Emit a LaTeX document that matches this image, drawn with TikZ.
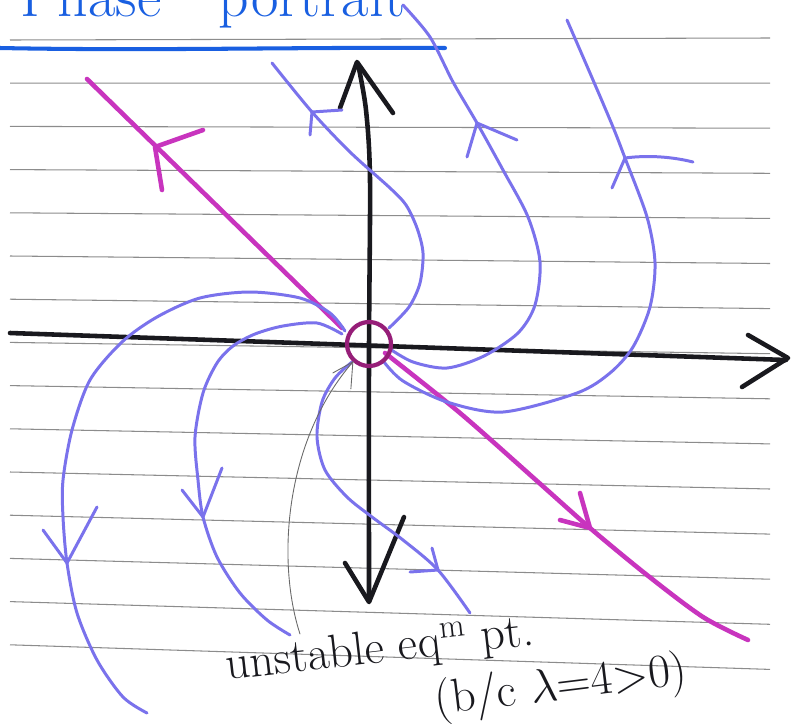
\RequirePackage{fix-cm}
\documentclass[tikz,border=0pt]{standalone}
\usepackage{amsmath}
\usepackage{tikz}
\usetikzlibrary{calc}
\definecolor{TitleBlue}{RGB}{25,95,225}
\definecolor{TrajBlue}{RGB}{122,114,236}
\definecolor{EigenMagenta}{RGB}{200,52,190}
\definecolor{EqPurple}{RGB}{150,30,120}
\definecolor{AxisBlack}{RGB}{25,25,30}
\definecolor{RuleGray}{RGB}{140,140,140}
\definecolor{PencilGray}{RGB}{105,105,105}
\tikzset{
  ruling/.style={draw=RuleGray,line width=0.6pt},
  axisline/.style={draw=AxisBlack,line width=2.6pt,line cap=round,line join=round},
  eigenline/.style={draw=EigenMagenta,line width=2.6pt,line cap=round,line join=round},
  traj/.style={draw=TrajBlue,line width=1.7pt,line cap=round,line join=round},
  pencil/.style={draw=PencilGray,line width=0.5pt,line cap=round},
  titleline/.style={draw=TitleBlue,line width=2.3pt,line cap=round},
  eqcircle/.style={circle,draw=EqPurple,line width=2.4pt,minimum size=0.88cm,inner sep=0pt},
  titletext/.style={text=TitleBlue,font=\fontsize{34}{40}\selectfont,inner sep=0pt},
  handtext/.style={text=AxisBlack,font=\fontsize{27}{32}\selectfont,inner sep=0pt}
}

\begin{document}
\begin{tikzpicture}[x=0.02cm,y=-0.02cm]
\clip (0,0) rectangle (791,727);
\fill[white] (0,0) rectangle (791,727);

% ruled paper
\foreach \k in {0,...,14}
  \draw[ruling] (10,{40+43.2*\k}) -- (770,{38+45.1*\k});

% title
\node[titletext,anchor=base west] (title) at (20,16) {Phase\hspace{1.15cm}portrait};
\draw[titleline] (0,48) .. controls (150,51) and (300,47) .. (445,48);

% axes
\draw[axisline] (10,333) -- (786,360);
\draw[axisline] (748,335) -- (788,358) -- (742,387);
\draw[axisline] plot[smooth] coordinates {(358,64) (366,110) (370,180) (369,350) (369,601)};
\draw[axisline] (340,108) -- (357,62) -- (393,113);
\draw[axisline] (345,563) -- (369,602) -- (404,517);

% eigenvector line
\draw[eigenline] (87,79) -- (342,328);
\draw[eigenline] (203,130) -- (155,147) -- (162,190);
\draw[eigenline] plot[smooth] coordinates {(385,353) (460,413) (537,481) (590,528) (647,575) (703,617) (748,640)};
\draw[eigenline] (560,520) -- (590,528) -- (580,493);

% trajectories
\draw[traj] plot[smooth] coordinates {(272,63) (312,112) (350,152) (390,188) (406,205) (417,228) (423,253) (420,283) (409,307) (389,328)};
\draw[traj] (342,110) -- (312,112) -- (310,135);
\draw[traj] plot[smooth] coordinates {(403,5) (430,37) (453,82) (477,123) (503,170) (528,217) (540,262) (535,305) (518,333) (484,356) (447,368) (413,362) (390,349)};
\draw[traj] (517,140) -- (477,123) -- (467,157);
\draw[traj] plot[smooth] coordinates {(567,20) (593,80) (613,127) (625,158) (647,217) (655,263) (650,307) (633,347) (610,373) (577,393) (503,412) (447,402) (403,381) (384,362)};
\draw[traj] (693,162) .. controls (665,155) and (640,156) .. (625,158) -- (612,188);
\draw[traj] plot[smooth] coordinates {(342,334) (317,323) (283,326) (255,334) (233,346) (217,363) (203,393) (195,437) (198,480) (203,517) (217,557) (240,593) (267,620) (290,635)};
\draw[traj] (182,490) -- (203,517) -- (222,468);
\draw[traj] plot[smooth] coordinates {(345,331) (330,313) (300,298) (250,292) (200,298) (157,317) (122,342) (90,380) (72,430) (63,480) (63,517) (67,563) (77,613) (97,660) (123,697) (147,713)};
\draw[traj] (43,530) -- (67,563) -- (97,507);
\draw[traj] plot[smooth] coordinates {(352,362) (335,378) (322,402) (317,437) (325,470) (347,497) (372,517) (403,540) (438,570) (470,613)};
\draw[traj] (410,572) -- (438,570) -- (432,548);

% equilibrium point
\node[eqcircle] (eq) at (369,344) {};

% label
\node[handtext,anchor=base west,rotate=6.5] (lblA) at (227,680) {unstable eq$^{\mathrm{m}}$ pt.};
\node[handtext,anchor=base west,rotate=7] (lblB) at (436,715) {(b/c $\lambda{=}4{>}0$)};
\coordinate (pnc) at (300,634);
\draw[pencil] (pnc) .. controls (276,560) and (285,440) .. (eq.228);
\draw[pencil] ($(eq.228)+(-20,11)$) -- (eq.228) -- ($(eq.228)+(-2,27)$);
\end{tikzpicture}
\end{document}
